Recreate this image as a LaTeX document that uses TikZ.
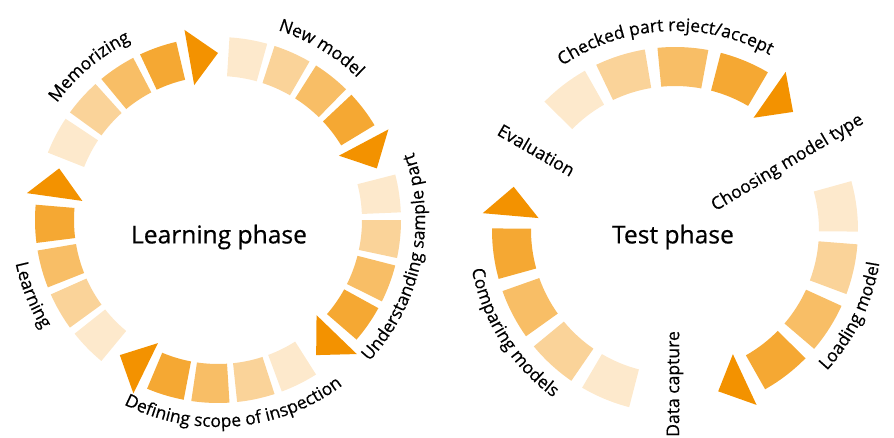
\documentclass[tikz,border=0pt]{standalone}
\usepackage{fontspec}
\setmainfont{Open Sans}[FakeBold=0.5]
\usetikzlibrary{decorations.text}

\definecolor{fhorange}{HTML}{F39200}
\newcommand{\lblfont}{\fontsize{10}{12}\selectfont}
% ring piece: centre, mid angle, half width, colour
\newcommand{\ringpiece}[4]{\fill[#4] ([shift={(#2-#3:144)}]#1) arc[start angle=#2-#3, end angle=#2+#3, radius=144] -- ([shift={(#2+#3:183)}]#1) arc[start angle=#2+#3, end angle=#2-#3, radius=183] -- cycle;}
% arrow head: centre, base angle
\newcommand{\ringtip}[2]{\fill[fhorange] ([shift={(#2:137)}]#1) -- ([shift={(#2:193)}]#1) -- ([shift={(#2-10:167)}]#1) -- cycle;}

\tikzset{
  lbl/.style={font=\lblfont},
  phase/.style={font=\fontsize{14}{17}\selectfont},
  cwtext/.style={decorate, decoration={text along path, text align=center, text={|\lblfont|#1}}},
  ccwtext/.style={decorate, decoration={text along path, text align=center, text={|\lblfont|#1}}}
}

\begin{document}
\begin{tikzpicture}[x=0.02cm, y=0.02cm]
\useasboundingbox (0,0) rectangle (894,437);
\coordinate (L) at (218,217);
\coordinate (T) at (675,207);

%learning phase
\node[phase] (lp) at (219,200) {Learning phase};

\ringpiece{L}{152.4}{6}{fhorange!20} \ringpiece{L}{138}{6}{fhorange!40} \ringpiece{L}{123.6}{6}{fhorange!60} \ringpiece{L}{109.2}{6}{fhorange!80} \ringtip{L}{100} %1
\ringpiece{L}{80.4}{6}{fhorange!20} \ringpiece{L}{66}{6}{fhorange!40} \ringpiece{L}{51.6}{6}{fhorange!60} \ringpiece{L}{37.2}{6}{fhorange!80} \ringtip{L}{28} %2
\ringpiece{L}{8.4}{6}{fhorange!20} \ringpiece{L}{-6}{6}{fhorange!40} \ringpiece{L}{-20.4}{6}{fhorange!60} \ringpiece{L}{-34.8}{6}{fhorange!80} \ringtip{L}{-44} %3
\ringpiece{L}{-63.6}{6}{fhorange!20} \ringpiece{L}{-78}{6}{fhorange!40} \ringpiece{L}{-92.4}{6}{fhorange!60} \ringpiece{L}{-106.8}{6}{fhorange!80} \ringtip{L}{-116} %4
\ringpiece{L}{224.4}{6}{fhorange!20} \ringpiece{L}{210}{6}{fhorange!40} \ringpiece{L}{195.6}{6}{fhorange!60} \ringpiece{L}{181.2}{6}{fhorange!80} \ringtip{L}{172} %5

\path[cwtext={Memorizing}] ([shift={(190:199)}]L) arc[start angle=190, end angle=70, radius=199];
\path[cwtext={New model}] ([shift={(119:199)}]L) arc[start angle=119, end angle=-1, radius=199];
\path[ccwtext={Understanding sample part}] ([shift={(-72:207)}]L) arc[start angle=-72, end angle=48, radius=207];
\path[ccwtext={Defining scope of inspection}] ([shift={(-145:207)}]L) arc[start angle=-145, end angle=-25, radius=207];
\path[ccwtext={Learning}] ([shift={(142:207)}]L) arc[start angle=142, end angle=262, radius=207];

%test phase
\node[phase] (tp) at (673,200) {Test phase};

\ringpiece{T}{127.5}{8}{fhorange!20} \ringpiece{T}{107.5}{8}{fhorange!40} \ringpiece{T}{87.5}{8}{fhorange!60} \ringpiece{T}{67.5}{8}{fhorange!80} \ringtip{T}{55} %1
\ringpiece{T}{7.5}{8}{fhorange!20} \ringpiece{T}{-12.5}{8}{fhorange!40} \ringpiece{T}{-32.5}{8}{fhorange!60} \ringpiece{T}{-52.5}{8}{fhorange!80} \ringtip{T}{-65} %2
\ringpiece{T}{247.5}{8}{fhorange!20} \ringpiece{T}{227.5}{8}{fhorange!40} \ringpiece{T}{207.5}{8}{fhorange!60} \ringpiece{T}{187.5}{8}{fhorange!80} \ringtip{T}{175} %3

\path[cwtext={Checked part reject/accept}] ([shift={(153:199)}]T) arc[start angle=153, end angle=33, radius=199];
\path[ccwtext={Loading model}] ([shift={(-86:207)}]T) arc[start angle=-86, end angle=34, radius=207];
\path[ccwtext={Comparing models}] ([shift={(152.5:207)}]T) arc[start angle=152.5, end angle=272.5, radius=207];

\node[lbl, rotate=-30] (ev) at ([shift={(150:160)}]T) {Evaluation};
\node[lbl, rotate=90] (dc) at ([shift={(-90:154)}]T) {Data capture};
\node[lbl, rotate=30.7] (cm) at ([shift={(30.7:131)}]T) {Choosing model type};

\end{tikzpicture}
\end{document}
